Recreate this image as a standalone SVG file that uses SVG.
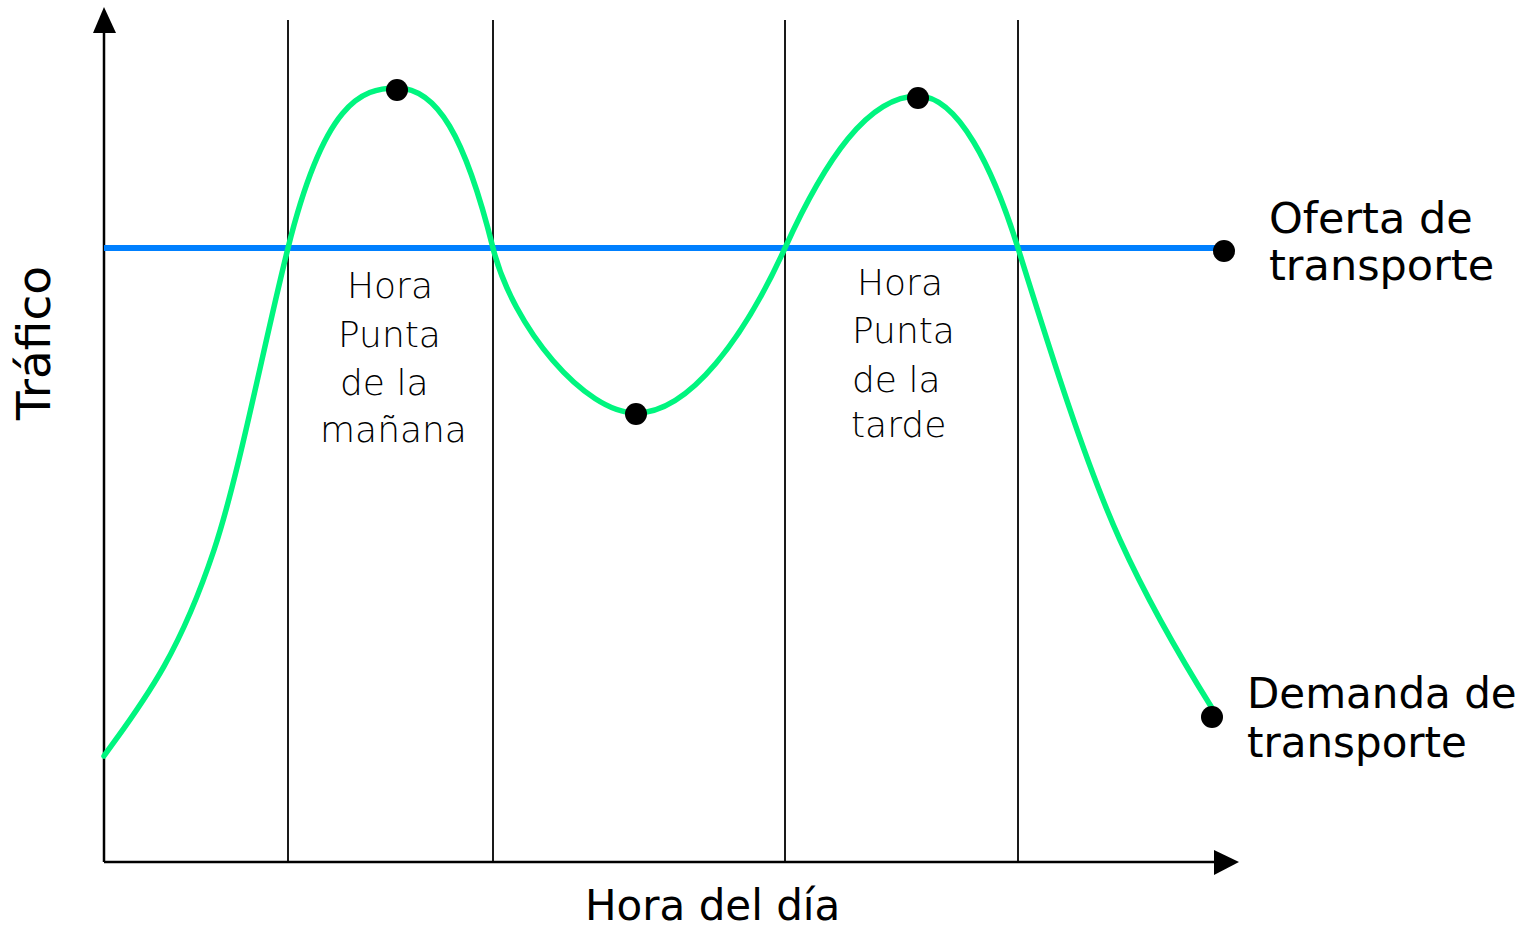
<svg xmlns="http://www.w3.org/2000/svg" width="1530" height="927" viewBox="0 0 1530 927">
<style>
.lbl{font-family:"DejaVu Sans","Liberation Sans",sans-serif;font-size:42px;fill:#000}
.big{font-size:43px}
.thin{font-family:"DejaVu Sans","Liberation Sans",sans-serif;font-size:36px;font-weight:200;fill:#000}
.grid{stroke:#1a1a1a;stroke-width:2;fill:none}
.axis{stroke:#000;stroke-width:2.5;fill:none}
.dot{fill:#000}
</style>
<rect width="1530" height="927" fill="#fff"/>
<g id="gridlines">
<line class="grid" x1="288" y1="20" x2="288" y2="862"/>
<line class="grid" x1="493" y1="20" x2="493" y2="862"/>
<line class="grid" x1="785" y1="20" x2="785" y2="862"/>
<line class="grid" x1="1018" y1="20" x2="1018" y2="862"/>
</g>
<g id="axes">
<line class="axis" x1="104" y1="862" x2="104" y2="28"/>
<polygon points="104,7 93,33 116,33" fill="#000"/>
<line class="axis" x1="104" y1="862" x2="1218" y2="862"/>
<polygon points="1239,862 1214,850 1214,875" fill="#000"/>
</g>
<g id="connectors">
<line id="oferta-line" x1="104" y1="248" x2="1224" y2="248" stroke="#0080ff" stroke-width="6"/>
<path id="demanda-curve" fill="none" stroke="#00f57f" stroke-width="5.5" stroke-linejoin="round" stroke-linecap="round"
d="M104,756 C140.7,704.7 177.3,660 214,550 C238.7,476 263.3,346.7 288,248 C324.3,102.7 360.7,88 397,88 C437,88 465,136 493,248 C513,328 585,413 636,413 C690,413 745,336 785,248 C825,160 868,96 918,96 C958,96 993,168 1018,248 C1048,344 1085,463 1120,540 C1150,606 1187,668 1212,708"/>
</g>
<g id="dots">
<circle class="dot" cx="397" cy="90" r="11"/>
<circle class="dot" cx="636" cy="414" r="11"/>
<circle class="dot" cx="918" cy="98" r="11"/>
<circle class="dot" cx="1224" cy="251" r="11"/>
<circle class="dot" cx="1212" cy="717" r="11"/>
</g>
<g id="label-trafico">
<text class="lbl" transform="translate(50,343) rotate(-90)" text-anchor="middle" style="font-size:47px">Tráfico</text>
</g>
<g id="label-hora-dia">
<text class="lbl" x="585" y="920">Hora del día</text>
</g>
<g id="label-oferta">
<text class="lbl big" x="1269" y="233">Oferta de</text>
<text class="lbl big" x="1269" y="280">transporte</text>
</g>
<g id="label-demanda">
<text class="lbl" x="1247" y="708">Demanda de</text>
<text class="lbl" x="1247" y="757">transporte</text>
</g>
<g id="label-manana">
<text class="thin" x="347" y="298">Hora</text>
<text class="thin" x="338" y="347">Punta</text>
<text class="thin" x="340" y="395">de la</text>
<text class="thin" x="320" y="442">mañana</text>
</g>
<g id="label-tarde">
<text class="thin" x="857" y="295">Hora</text>
<text class="thin" x="852" y="343">Punta</text>
<text class="thin" x="852" y="392">de la</text>
<text class="thin" x="851" y="437">tarde</text>
</g>
</svg>
